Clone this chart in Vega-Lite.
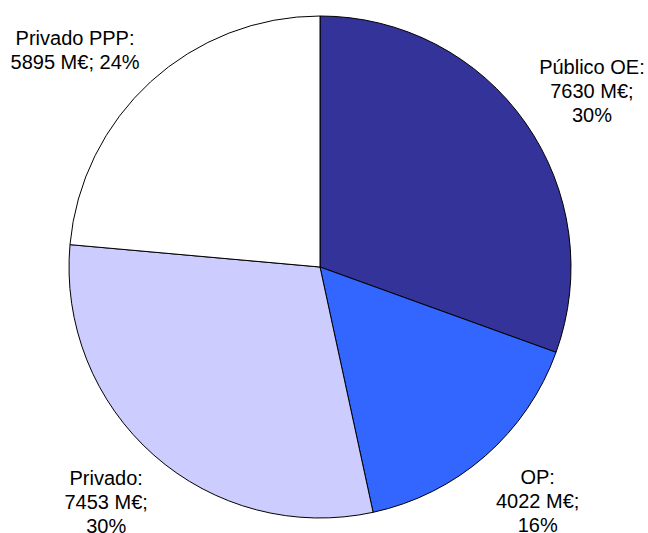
{
  "$schema": "https://vega.github.io/schema/vega-lite/v6.json",
  "width": 640,
  "height": 534,
  "autosize": {"type": "none"},
  "padding": {"left": 0, "top": 0, "right": 8, "bottom": 0},
  "background": "white",
  "config": {"view": {"stroke": null}},
  "data": {
    "values": [
      {"k": 1, "cat": "Público OE", "value": 7630, "label": "Público OE:\n7630 M€;\n30%"},
      {"k": 2, "cat": "OP", "value": 4022, "label": "OP:\n4022 M€;\n16%"},
      {"k": 3, "cat": "Privado", "value": 7453, "label": "Privado:\n7453 M€;\n30%"},
      {"k": 4, "cat": "Privado PPP", "value": 5895, "label": "Privado PPP:\n5895 M€; 24%"}
    ]
  },
  "encoding": {
    "theta": {"field": "value", "type": "quantitative", "stack": true},
    "order": {"field": "k", "type": "quantitative"}
  },
  "layer": [
    {
      "mark": {"type": "arc", "radius": 251, "stroke": "black", "strokeWidth": 1},
      "encoding": {
        "color": {
          "field": "cat",
          "type": "nominal",
          "scale": {
            "domain": ["Público OE", "OP", "Privado", "Privado PPP"],
            "range": ["#333399", "#3366FF", "#CCCCFF", "#FFFFFF"]
          },
          "legend": null
        }
      }
    },
    {
      "mark": {"type": "text", "radius": 320, "dx": 10, "dy": -15, "font": "Liberation Sans", "fontSize": 20, "lineHeight": 24, "lineBreak": "\n", "align": "center", "baseline": "middle", "color": "black"},
      "encoding": {"text": {"condition": {"test": "datum.cat === 'Público OE'", "field": "label"}, "value": ""}}
    },
    {
      "mark": {"type": "text", "radius": 320, "dx": 7, "dy": -30, "font": "Liberation Sans", "fontSize": 20, "lineHeight": 24, "lineBreak": "\n", "align": "center", "baseline": "middle", "color": "black"},
      "encoding": {"text": {"condition": {"test": "datum.cat === 'OP'", "field": "label"}, "value": ""}}
    },
    {
      "mark": {"type": "text", "radius": 320, "dx": -2, "dy": -28, "font": "Liberation Sans", "fontSize": 20, "lineHeight": 24, "lineBreak": "\n", "align": "center", "baseline": "middle", "color": "black"},
      "encoding": {"text": {"condition": {"test": "datum.cat === 'Privado'", "field": "label"}, "value": ""}}
    },
    {
      "mark": {"type": "text", "radius": 320, "dx": -29, "dy": 8, "font": "Liberation Sans", "fontSize": 20, "lineHeight": 24, "lineBreak": "\n", "align": "center", "baseline": "middle", "color": "black"},
      "encoding": {"text": {"condition": {"test": "datum.cat === 'Privado PPP'", "field": "label"}, "value": ""}}
    }
  ]
}
